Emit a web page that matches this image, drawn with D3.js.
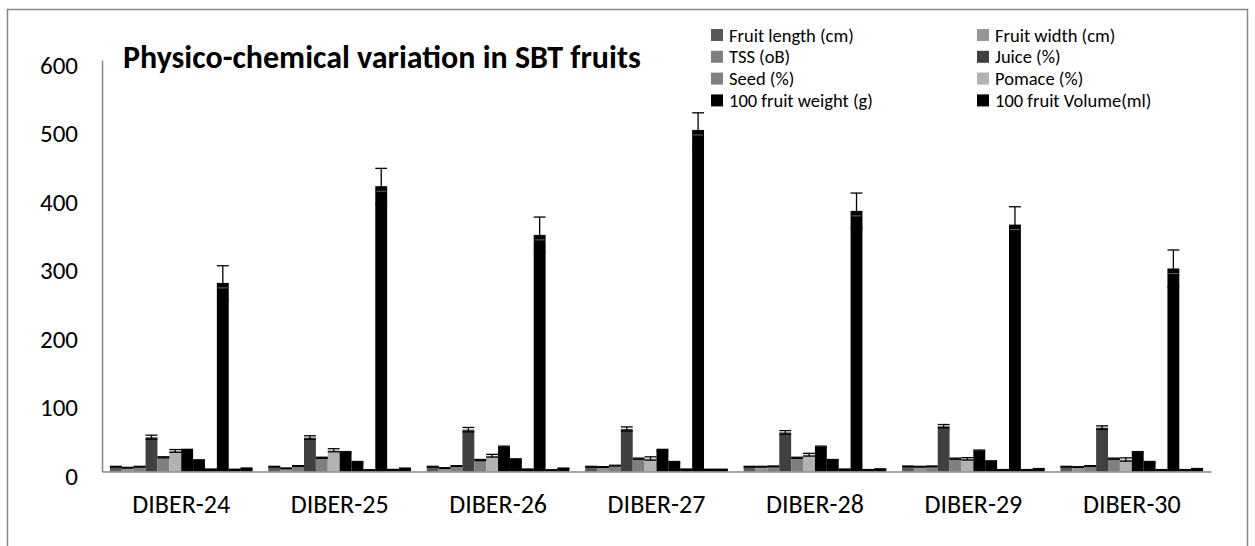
<!DOCTYPE html>
<html><head><meta charset="utf-8">
<script src="https://cdn.jsdelivr.net/npm/d3@7"></script>
<style>body{margin:0;background:#fff}svg{display:block}text{font-family:Carlito,Calibri,Lato,sans-serif}</style>
</head><body>
<svg id="c" width="1255" height="546"></svg>
<script>
const categories = ["DIBER-24","DIBER-25","DIBER-26","DIBER-27","DIBER-28","DIBER-29","DIBER-30"];
const seriesNames = ["Fruit length (cm)","Fruit width (cm)","TSS (oB)","Juice (%)","Seed (%)","Pomace (%)","100 fruit weight (g)","100 fruit Volume(ml)","Series 9","Series 10","Series 11","Series 12"];
const legendNames = seriesNames.slice(0, 8);
const fruitLength = [7, 7, 7, 7, 7, 7.5, 7];
const fruitWidth  = [5.5, 4.6, 5, 6.5, 7, 7, 6.5];
const tss         = [7, 8, 8, 8.6, 7.5, 7.5, 8];
const juice       = [50, 49.5, 61, 62, 57, 66, 64];
const seed        = [20.7, 20, 16.7, 18.7, 20, 18.7, 18.7];
const pomace      = [30, 31, 23, 19, 24.5, 18.5, 17.5];
const weight100   = [31.3, 28, 36, 31.3, 36, 30.3, 28];
const volume100   = [16.3, 13.8, 17.7, 13.8, 16.7, 14.8, 13.8];
const series9     = [3.2, 2.2, 3.2, 3.2, 3.2, 2.5, 2.5];
const series10    = [275, 416, 345, 498, 380, 360, 296];
const series11    = [3, 2.7, 2.2, 3, 2.5, 2.5, 2.5];
const series12    = [4.7, 4.6, 4.6, 3, 3.5, 4, 4];
const errLength = [0.5,0.5,0.5,0.5,0.5,0.5,0.5];
const errWidth  = [0.5,0.5,0.5,0.5,0.5,0.5,0.5];
const errTss    = [0.5,0.5,0.5,0.5,0.5,0.5,0.5];
const errJuice  = [3, 2.6, 3.2, 3, 2.6, 2.5, 2.6];
const errSeed   = [0.8,0.8,0.8,0.8,0.8,0.8,0.8];
const errPomace = [2, 2.2, 2, 2.4, 2, 1.7, 2.4];
const errWeight = [1,1,1,1,1,1,1];
const errVolume = [0.8,0.8,0.8,0.8,0.8,0.8,0.8];
const err9  = [0.3,0.3,0.3,0.3,0.3,0.3,0.3];
const err10 = [25, 26, 26, 25, 26, 26, 27];
const err11 = [0.3,0.3,0.3,0.3,0.3,0.3,0.3];
const err12 = [0.3,0.3,0.3,0.3,0.3,0.3,0.3];
const yTicks = [0,100,200,300,400,500,600];
const colors = ["#595959","#969696","#7f7f7f","#404040","#7f7f7f","#b2b2b2","#000","#000","#000","#000","#000","#000"];

const values = [fruitLength,fruitWidth,tss,juice,seed,pomace,weight100,volume100,series9,series10,series11,series12];
const errors = [errLength,errWidth,errTss,errJuice,errSeed,errPomace,errWeight,errVolume,err9,err10,err11,err12];

const svg = d3.select("#c");
const L = 102, R = 1211, T = 60, B = 471.5;

svg.append("rect").attr("x",7.5).attr("y",9.5).attr("width",1240).attr("height",600)
  .attr("fill","none").attr("stroke","#868686").attr("stroke-width",1.5);

const x0 = d3.scaleBand().domain(categories).range([L,R]).paddingInner(0.1).paddingOuter(0.05);
const x1 = d3.scaleBand().domain(d3.range(values.length)).range([0,x0.bandwidth()]);
const y = d3.scaleLinear().domain([0,600]).range([B,T]);

const rows = [];
categories.forEach((c,ci)=>values.forEach((s,si)=>rows.push({c,si,v:s[ci],e:errors[si][ci]})));

const g = svg.append("g");
g.selectAll("rect.bar").data(rows).join("rect").attr("class","bar")
  .attr("x",d=>x0(d.c)+x1(d.si)).attr("width",x1.bandwidth())
  .attr("y",d=>y(d.v)).attr("height",d=>y(0)-y(d.v)).attr("fill",d=>colors[d.si]);

const eb = g.selectAll("g.err").data(rows).join("g").attr("class","err")
  .attr("stroke","#000").attr("stroke-width",1.3);
eb.append("line").attr("x1",d=>x0(d.c)+x1(d.si)+x1.bandwidth()/2).attr("x2",d=>x0(d.c)+x1(d.si)+x1.bandwidth()/2)
  .attr("y1",d=>y(d.v-d.e)).attr("y2",d=>y(d.v+d.e));
eb.append("line").attr("x1",d=>x0(d.c)+x1(d.si)).attr("x2",d=>x0(d.c)+x1(d.si)+x1.bandwidth())
  .attr("y1",d=>y(d.v+d.e)).attr("y2",d=>y(d.v+d.e));
eb.append("line").attr("x1",d=>x0(d.c)+x1(d.si)).attr("x2",d=>x0(d.c)+x1(d.si)+x1.bandwidth())
  .attr("y1",d=>y(d.v-d.e)).attr("y2",d=>y(d.v-d.e));
// faint highlight at top of the tall bars, as in the reference
g.selectAll("line.hl").data(rows.filter(d=>d.si===9)).join("line").attr("class","hl")
  .attr("x1",d=>x0(d.c)+x1(d.si)+1).attr("x2",d=>x0(d.c)+x1(d.si)+x1.bandwidth()-1)
  .attr("y1",d=>y(d.v)+5).attr("y2",d=>y(d.v)+5).attr("stroke","#666").attr("stroke-width",1);

// axes
const ya = d3.axisLeft(y).tickValues(yTicks).tickSize(0).tickPadding(24);
const yg = svg.append("g").attr("transform",`translate(${L},0)`).call(ya);
yg.select(".domain").attr("stroke","#868686").attr("stroke-width",1.5);
yg.selectAll("text").attr("font-size",25).attr("fill","#000").attr("dy","0.52em");

const xa = d3.axisBottom(x0).tickSize(0).tickPadding(23);
const xg = svg.append("g").attr("transform",`translate(0,${B})`).call(xa);
xg.select(".domain").attr("stroke","#868686").attr("stroke-width",1.5);
xg.selectAll("text").attr("font-size",26).attr("fill","#000");

// title
svg.append("text").attr("x",123).attr("y",68).attr("font-size",32).attr("font-weight","bold")
  .text("Physico-chemical variation in SBT fruits");

// legend
const lg = svg.append("g");
legendNames.forEach((n,i)=>{
  const col = i%2, row = Math.floor(i/2);
  const lx = col===0 ? 711 : 977, ly = 35 + row*21.8;
  lg.append("rect").attr("x",lx).attr("y",ly-6).attr("width",12).attr("height",12).attr("fill",colors[i]);
  lg.append("text").attr("x",lx+18).attr("y",ly).attr("dy","0.36em").attr("font-size",18.5).text(n);
});
</script>
</body></html>
